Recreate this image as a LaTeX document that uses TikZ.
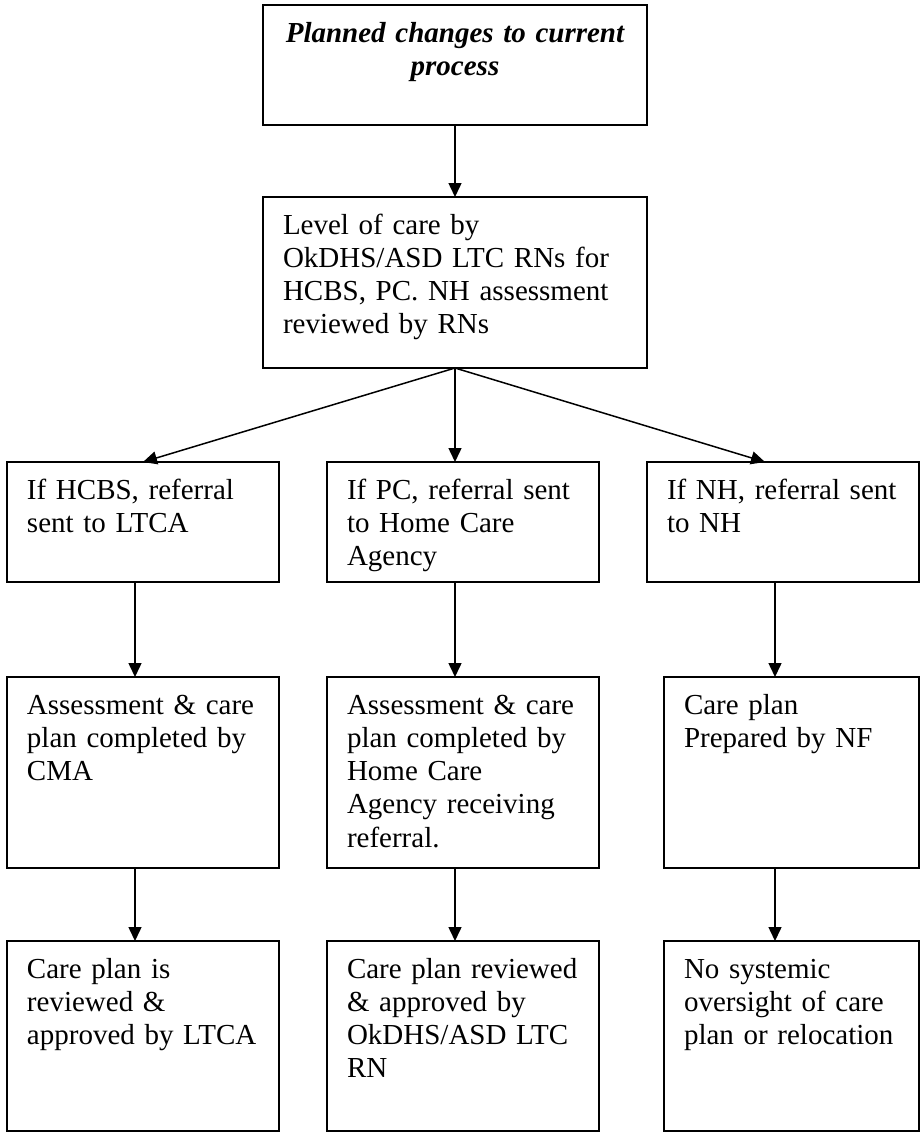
\documentclass[tikz,border=0pt]{standalone}
\usepackage{fontspec}
\setmainfont{Liberation Serif}
\usetikzlibrary{positioning,arrows.meta}

\begin{document}
\begin{tikzpicture}[node distance=72pt,
    procbox/.style={draw, rectangle, line width=1.8pt, align=left, inner xsep=20pt, inner ysep=0pt, outer sep=0pt, text height=37pt, font=\fontsize{29pt}{33.3pt}\selectfont},
    widebox/.style={procbox, text width=344pt},
    colbox/.style={procbox, text width=232pt},
    narrowbox/.style={procbox, text width=215pt},
    arr/.style={line width=1.5pt, -{Triangle[length=14pt, width=13pt]}}]
    \useasboundingbox (0,0) rectangle (919pt,-1133pt);

    \node[widebox, align=center, text depth=83pt, anchor=north, font=\fontsize{29pt}{33.3pt}\selectfont\bfseries\itshape] (planned) at (455pt,-5pt) {Planned changes to current\\process};
    \node[widebox, text depth=134pt, below=of planned] (level) {Level of care by\\OkDHS/ASD LTC RNs for\\HCBS, PC. NH assessment\\reviewed by RNs};

    \node[colbox, text depth=83pt, below=94pt of level, xshift=8pt] (pc) {If PC, referral sent\\to Home Care\\Agency};
    \node[colbox, text depth=83pt, left=48pt of pc] (hcbs) {If HCBS, referral\\sent to LTCA};
    \node[colbox, text depth=83pt, right=48pt of pc] (nh) {If NH, referral sent\\to NH};

    \node[colbox, text depth=154pt, below=95pt of hcbs] (cma) {Assessment \& care\\plan completed by\\CMA};
    \node[colbox, text depth=154pt, below=95pt of pc] (hca) {Assessment \& care\\plan completed by\\Home Care\\Agency receiving\\referral.};
    \node[narrowbox, text depth=154pt, below=95pt of nh.south east, anchor=north east] (nf) {Care plan\\Prepared by NF};

    \node[colbox, text depth=153pt, below=73pt of cma] (ltca) {Care plan is\\reviewed \&\\approved by LTCA};
    \node[colbox, text depth=153pt, below=73pt of hca] (okdhs) {Care plan reviewed\\\& approved by\\OkDHS/ASD LTC\\RN};
    \node[narrowbox, text depth=153pt, below=73pt of nf] (oversight) {No systemic\\oversight of care\\plan or relocation};

    % arrow columns
    \coordinate (colL) at (135pt,0);
    \coordinate (colM) at (455pt,0);
    \coordinate (colR) at (775pt,0);
    \coordinate (tipR) at (765pt,0);

    \draw[arr] (planned) -- (level);
    \draw[arr] (level.south) -- (hcbs.north);
    \draw[arr] (level.south) -- (pc.north -| colM);
    \draw[arr] (level.south) -- (nh.north -| tipR);

    \draw[arr] (hcbs.south -| colL) -- (cma.north -| colL);
    \draw[arr] (pc.south -| colM) -- (hca.north -| colM);
    \draw[arr] (nh.south -| colR) -- (nf.north -| colR);

    \draw[arr] (cma.south -| colL) -- (ltca.north -| colL);
    \draw[arr] (hca.south -| colM) -- (okdhs.north -| colM);
    \draw[arr] (nf.south -| colR) -- (oversight.north -| colR);
\end{tikzpicture}
\end{document}
